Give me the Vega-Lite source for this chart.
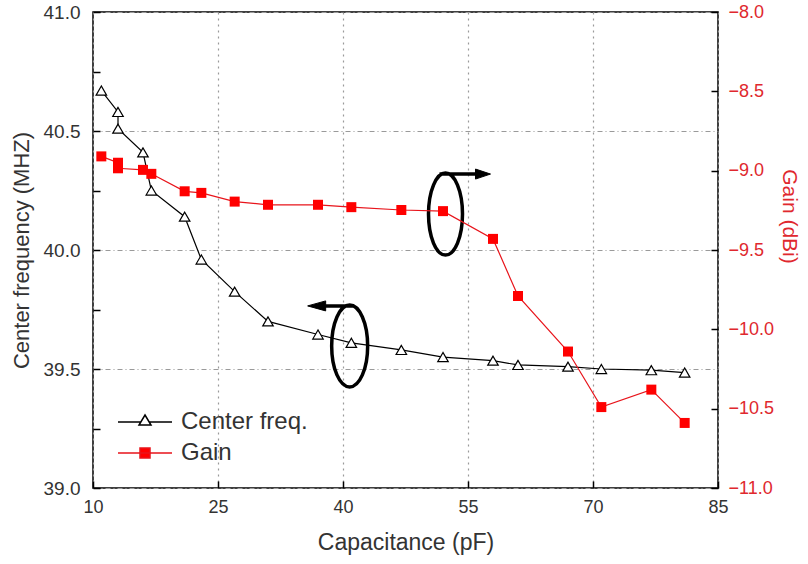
{
  "$schema": "https://vega.github.io/schema/vega-lite/v6.json",
  "width": 625,
  "height": 476,
  "autosize": {"type": "none"},
  "padding": {"left": 93, "top": 12, "right": 90, "bottom": 76},
  "background": "white",
  "config": {
    "font": "Liberation Sans",
    "view": {"stroke": "#000000", "strokeWidth": 1.5},
    "axis": {"domain": false, "labelFlush": false, "labelOverlap": false, "titleFontWeight": "normal", "tickColor": "#000000", "tickWidth": 1.5, "tickSize": -7}
  },
  "datasets": {
    "main": [
      {"cap": 11, "freq": 40.67, "gain": -8.91},
      {"cap": 13, "freq": 40.58, "gain": -8.95},
      {"cap": 13, "freq": 40.51, "gain": -8.985},
      {"cap": 16, "freq": 40.41, "gain": -8.995},
      {"cap": 17, "freq": 40.25, "gain": -9.02},
      {"cap": 21, "freq": 40.14, "gain": -9.13},
      {"cap": 23, "freq": 39.96, "gain": -9.14},
      {"cap": 27, "freq": 39.825, "gain": -9.195},
      {"cap": 31, "freq": 39.7, "gain": -9.215},
      {"cap": 37, "freq": 39.645, "gain": -9.215},
      {"cap": 41, "freq": 39.61, "gain": -9.23},
      {"cap": 47, "freq": 39.58, "gain": -9.248},
      {"cap": 52, "freq": 39.55, "gain": -9.255},
      {"cap": 58, "freq": 39.535, "gain": -9.43},
      {"cap": 61, "freq": 39.517, "gain": -9.79},
      {"cap": 67, "freq": 39.51, "gain": -10.14},
      {"cap": 71, "freq": 39.5, "gain": -10.49},
      {"cap": 77, "freq": 39.495, "gain": -10.38},
      {"cap": 81, "freq": 39.485, "gain": -10.59}
    ],
    "notes": [
      {"cap": 52.3, "freq": 40.151, "dir": "right"},
      {"cap": 40.8, "freq": 39.597, "dir": "left"}
    ]
  },
  "encoding": {
    "x": {
      "field": "cap",
      "type": "quantitative",
      "scale": {"domain": [10, 85], "nice": false, "zero": false},
      "axis": {
        "title": "Capacitance (pF)",
        "values": [10, 25, 40, 55, 70, 85],
        "format": "d",
        "labelPadding": 17,
        "labelFontSize": 18,
        "labelColor": "#333333",
        "titleFontSize": 23,
        "titleColor": "#333333",
        "titlePadding": 15,
        "grid": true,
        "gridColor": "#9a9a9a",
        "gridDash": [2, 4],
        "gridWidth": 1.2
      }
    }
  },
  "layer": [
    {
      "data": {"name": "main"},
      "encoding": {
        "y": {
          "field": "freq",
          "type": "quantitative",
          "scale": {"domain": [39, 41], "nice": false, "zero": false},
          "axis": {
            "title": "Center frequency (MHZ)",
            "orient": "left",
            "values": [39, 39.25, 39.5, 39.75, 40, 40.25, 40.5, 40.75, 41],
            "labelExpr": "datum.value % 0.5 === 0 ? format(datum.value, '.1f') : ''",
            "labelPadding": 20,
            "labelFontSize": 19,
            "labelColor": "#333333",
            "titleFontSize": 22,
            "titleColor": "#333333",
            "titlePadding": 10,
            "grid": true,
            "gridColor": "#9a9a9a",
            "gridDash": [5, 3, 1, 3],
            "gridWidth": 1.2,
            "gridOpacity": {"condition": {"test": "datum.value % 0.5 !== 0", "value": 0}, "value": 1}
          }
        }
      },
      "layer": [
        {
          "mark": {"type": "line", "strokeWidth": 1.2},
          "encoding": {
            "color": {
              "datum": "Center freq.",
              "scale": {"domain": ["Center freq.", "Gain"], "range": ["#000000", "#e8141b"]},
              "legend": {
                "orient": "none",
                "legendX": 40,
                "legendY": 398,
                "title": null,
                "padding": 0,
                "labelFontSize": 24,
                "labelColor": "#333333",
                "labelOffset": 24,
                "rowPadding": 7,
                "symbolSize": 4,
                "symbolStrokeWidth": 1.5,
                "symbolType": "M-27,0L27,0",
                "encode": {
                  "symbols": {
                    "update": {
                      "shape": {"signal": "datum.value === 'Gain' ? 'M-27,0L27,0M-5,-5L5,-5L5,5L-5,5Z' : 'M-27,0L-4.2,0M4.2,0L27,0M0,-7L6,3L-6,3Z'"},
                      "fill": {"signal": "datum.value === 'Gain' ? '#ff0000' : '#ffffff'"},
                      "stroke": {"signal": "datum.value === 'Gain' ? '#e8141b' : '#000000'"},
                      "opacity": {"value": 1},
                      "fillOpacity": {"value": 1},
                      "strokeOpacity": {"value": 1}
                    }
                  }
                }
              }
            }
          }
        },
        {
          "mark": {"type": "point", "shape": "triangle-up", "filled": true, "fill": "#ffffff", "stroke": "#000000", "strokeWidth": 1.2, "size": 110, "opacity": 1}
        },
        {
          "data": {"name": "notes"},
          "mark": {"type": "point", "filled": false, "stroke": "#000000", "strokeWidth": 3.5, "size": 4, "opacity": 1},
          "encoding": {
            "shape": {
              "field": "dir",
              "type": "nominal",
              "scale": {"domain": ["right", "left"], "range": [
                "M17,0A17,41 0 1 1 -17,0A17,41 0 1 1 17,0M-6,-40L34,-40",
                "M18,0A18,41 0 1 1 -18,0A18,41 0 1 1 18,0M4,-40L-28,-40"
              ]},
              "legend": null
            }
          }
        },
        {
          "data": {"name": "notes"},
          "mark": {"type": "point", "filled": true, "fill": "#000000", "stroke": "#000000", "strokeWidth": 1, "size": 4, "opacity": 1},
          "encoding": {
            "shape": {
              "field": "dir",
              "type": "nominal",
              "scale": {"domain": ["right", "left"], "range": [
                "M30,-45L45,-40L30,-35Z",
                "M-24,-45L-42,-40L-24,-35Z"
              ]},
              "legend": null
            }
          }
        }
      ],
      "resolve": {"scale": {"shape": "independent"}}
    },
    {
      "data": {"name": "main"},
      "encoding": {
        "y": {
          "field": "gain",
          "type": "quantitative",
          "scale": {"domain": [-11, -8], "nice": false, "zero": false},
          "axis": {
            "title": "Gain (dBi)",
            "orient": "right",
            "values": [-8, -8.5, -9, -9.5, -10, -10.5, -11],
            "format": ".1f",
            "labelPadding": 17,
            "labelFontSize": 18,
            "labelColor": "#e0282e",
            "titleFontSize": 21,
            "titleColor": "#e0282e",
            "titlePadding": 5,
            "titleY": 204,
            "grid": false
          }
        }
      },
      "layer": [
        {
          "mark": {"type": "line", "strokeWidth": 1.2},
          "encoding": {"color": {"datum": "Gain"}}
        },
        {
          "mark": {"type": "point", "shape": "square", "filled": true, "color": "#ff0000", "size": 100, "opacity": 1}
        }
      ]
    }
  ],
  "resolve": {"scale": {"y": "independent"}}
}
